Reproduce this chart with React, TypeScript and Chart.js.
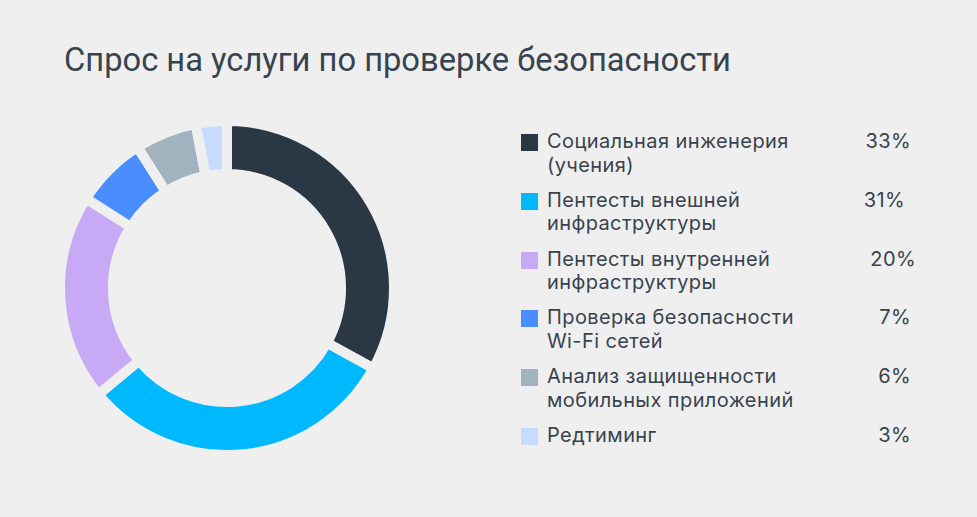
import React, { useEffect, useRef } from 'react'
import { Chart, ArcElement, DoughnutController, Tooltip, type ChartConfiguration } from 'chart.js'

Chart.register(ArcElement, DoughnutController, Tooltip)

const title = 'Спрос на услуги по проверке безопасности'

const labels = [
  ['Социальная инженерия', '(учения)'],
  ['Пентесты внешней', 'инфраструктуры'],
  ['Пентесты внутренней', 'инфраструктуры'],
  ['Проверка безопасности', 'Wi-Fi сетей'],
  ['Анализ защищенности', 'мобильных приложений'],
  ['Редтиминг'],
]
const shares = [33, 31, 20, 7, 6, 3]
const colors = ['#2a3744', '#00b8fe', '#c8a9f5', '#4a8dff', '#a0b3bf', '#c6dcff']

const BG = '#efefef'
const TEXT = '#37434e'
const SIZE = 360
// the percentages in the source are not aligned on one edge
const pctShift = [0, -6, 5, 0, 0, 0]

function Donut() {
  const canvasRef = useRef<HTMLCanvasElement>(null)
  const chartRef = useRef<Chart | null>(null)

  useEffect(() => {
    if (!canvasRef.current) return
    chartRef.current?.destroy()

    const cfg: ChartConfiguration<'doughnut'> = {
      type: 'doughnut',
      data: {
        labels: labels.map(l => l.join(' ')),
        datasets: [{
          data: shares,
          backgroundColor: colors,
          // gaps between slices are a background-coloured stroke
          borderColor: BG,
          borderWidth: 10,
          borderJoinStyle: 'miter',
          hoverBorderColor: BG,
        }],
      },
      options: {
        responsive: false,
        maintainAspectRatio: false,
        animation: false,
        radius: 167,
        cutout: 119.5,
        rotation: 0,
        layout: { padding: 0 },
        plugins: {
          legend: { display: false },
          tooltip: { enabled: true },
        },
      },
    }
    chartRef.current = new Chart(canvasRef.current, cfg)
    return () => { chartRef.current?.destroy() }
  }, [])

  return (
    <canvas
      ref={canvasRef}
      width={SIZE}
      height={SIZE}
      style={{ position: 'absolute', left: 227 - SIZE / 2, top: 288 - SIZE / 2, width: SIZE, height: SIZE }}
    />
  )
}

export default function App() {
  useEffect(() => { document.body.style.margin = '0' }, [])

  return (
    <div style={{ position: 'relative', width: 977, height: 517, background: BG, overflow: 'hidden' }}>
      <div style={{
        position: 'absolute', left: 64, top: 42,
        font: '400 32.7px Roboto', color: TEXT, lineHeight: '36px', whiteSpace: 'nowrap',
      }}>
        {title}
      </div>

      <Donut />

      <div style={{
        position: 'absolute', left: 521, top: 130, width: 390,
        font: '400 20px Inter', letterSpacing: '0.4px', color: TEXT,
      }}>
        {labels.map((lines, i) => (
          <div key={i} style={{ display: 'flex', alignItems: 'flex-start', marginBottom: 11.8, lineHeight: '23.5px' }}>
            <div style={{ width: 17, height: 17, marginTop: 4, marginRight: 9, background: colors[i], flex: 'none' }} />
            <div style={{ flex: 1, whiteSpace: 'nowrap' }}>
              {lines.map((t, j) => <div key={j}>{t}</div>)}
            </div>
            <div style={{ textAlign: 'right', whiteSpace: 'nowrap', position: 'relative', left: pctShift[i] }}>
              {shares[i]}%
            </div>
          </div>
        ))}
      </div>
    </div>
  )
}
